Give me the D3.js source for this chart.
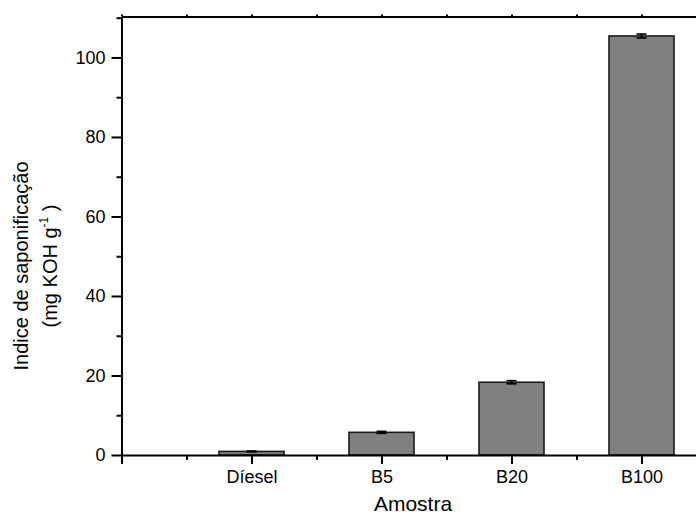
<!DOCTYPE html>
<html>
<head>
<meta charset="utf-8">
<script src="https://cdn.jsdelivr.net/npm/d3@7"></script>
<style>
  html, body { margin: 0; padding: 0; background: #fff; }
  svg { display: block; }
  text { font-family: "Liberation Sans", Arial, sans-serif; fill: #000; }
</style>
</head>
<body>
<svg id="chart" width="696" height="517"></svg>
<script>
// Saponification index per sample (mg KOH g-1) with standard deviations
const categories = ["Díesel", "B5", "B20", "B100"];
const values = [0.9, 5.7, 18.3, 105.4];
const errors = [0.1, 0.25, 0.4, 0.5];
const yTicks = [0, 20, 40, 60, 80, 100];
const yMinorTicks = [10, 30, 50, 70, 90, 110];
const xMinorTicks = [0.5, 1.5, 2.5, 3.5, 4.5];

const svg = d3.select("#chart");
const plotLeft = 121.5, plotTop = 16.5, plotBottom = 455;
const unit = 130; // pixels per category step

const x = d3.scaleLinear().domain([0, 4.5]).range([plotLeft, plotLeft + 4.5 * unit]);
const y = d3.scaleLinear().domain([0, 110.3]).range([plotBottom, plotTop]);
const xPos = i => x(i + 1);
const barW = x(0.5) - x(0);

// bars
svg.append("g").selectAll("rect").data(values).join("rect")
  .attr("x", (d, i) => xPos(i) - barW / 2)
  .attr("y", d => y(d))
  .attr("width", barW)
  .attr("height", d => y(0) - y(d))
  .attr("fill", "#808080")
  .attr("stroke", "#1a1a1a")
  .attr("stroke-width", 1.6);

// error bars
const eb = svg.append("g").attr("stroke", "#000").attr("stroke-width", 1.6);
values.forEach((v, i) => {
  const cx = xPos(i), e = errors[i];
  eb.append("line").attr("x1", cx).attr("x2", cx).attr("y1", y(v - e)).attr("y2", y(v + e));
  eb.append("line").attr("x1", cx - 5).attr("x2", cx + 5).attr("y1", y(v + e)).attr("y2", y(v + e));
  eb.append("line").attr("x1", cx - 5).attr("x2", cx + 5).attr("y1", y(v - e)).attr("y2", y(v - e));
});

function styleAxis(g) {
  g.selectAll("path, line").attr("stroke", "#000").attr("stroke-width", 2);
  g.selectAll("text").style("font-family", '"Liberation Sans", Arial, sans-serif').attr("fill", "#000");
}

// bottom axis: category ticks, minor ticks between
const xMajor = [0, 1, 2, 3, 4];
svg.append("g").attr("transform", `translate(0,${plotBottom})`)
  .call(d3.axisBottom(x).tickValues(xMajor).tickSizeOuter(0).tickPadding(6).tickSize(9)
    .tickFormat(d => d === 0 ? "" : categories[d - 1]))
  .call(styleAxis)
  .call(g => g.selectAll("text").attr("font-size", 18));
svg.append("g").attr("transform", `translate(0,${plotBottom})`)
  .call(d3.axisBottom(x).tickValues(xMinorTicks).tickSize(5).tickFormat(""))
  .call(styleAxis)
  .call(g => g.select(".domain").remove());

// top axis
svg.append("g").attr("transform", `translate(0,${plotTop})`)
  .call(d3.axisTop(x).tickValues(xMajor.concat(xMinorTicks)).tickSize(2).tickSizeOuter(0).tickFormat(""))
  .call(styleAxis);

// left axis
svg.append("g").attr("transform", `translate(${plotLeft},0)`)
  .call(d3.axisLeft(y).tickValues(yTicks).tickSize(10).tickSizeOuter(0).tickPadding(6))
  .call(styleAxis)
  .call(g => g.selectAll("text").attr("font-size", 18));
svg.append("g").attr("transform", `translate(${plotLeft},0)`)
  .call(d3.axisLeft(y).tickValues(yMinorTicks).tickSize(5).tickFormat(""))
  .call(styleAxis)
  .call(g => g.select(".domain").remove());

// axis titles
svg.append("text")
  .attr("x", 413).attr("y", 511)
  .attr("text-anchor", "middle").attr("font-size", 21)
  .text("Amostra");

const yl = svg.append("g").attr("transform", "translate(0,266) rotate(-90)");
yl.append("text").attr("x", 0).attr("y", 28)
  .attr("text-anchor", "middle").attr("font-size", 20)
  .text("Indice de saponificação");
const t2 = yl.append("text").attr("x", 0).attr("y", 57)
  .attr("text-anchor", "middle").attr("font-size", 20);
t2.append("tspan").text("(mg KOH g");
t2.append("tspan").attr("font-size", 12).attr("dy", -9).text("-1");
t2.append("tspan").attr("dy", 9).text(" )");
</script>
</body>
</html>
